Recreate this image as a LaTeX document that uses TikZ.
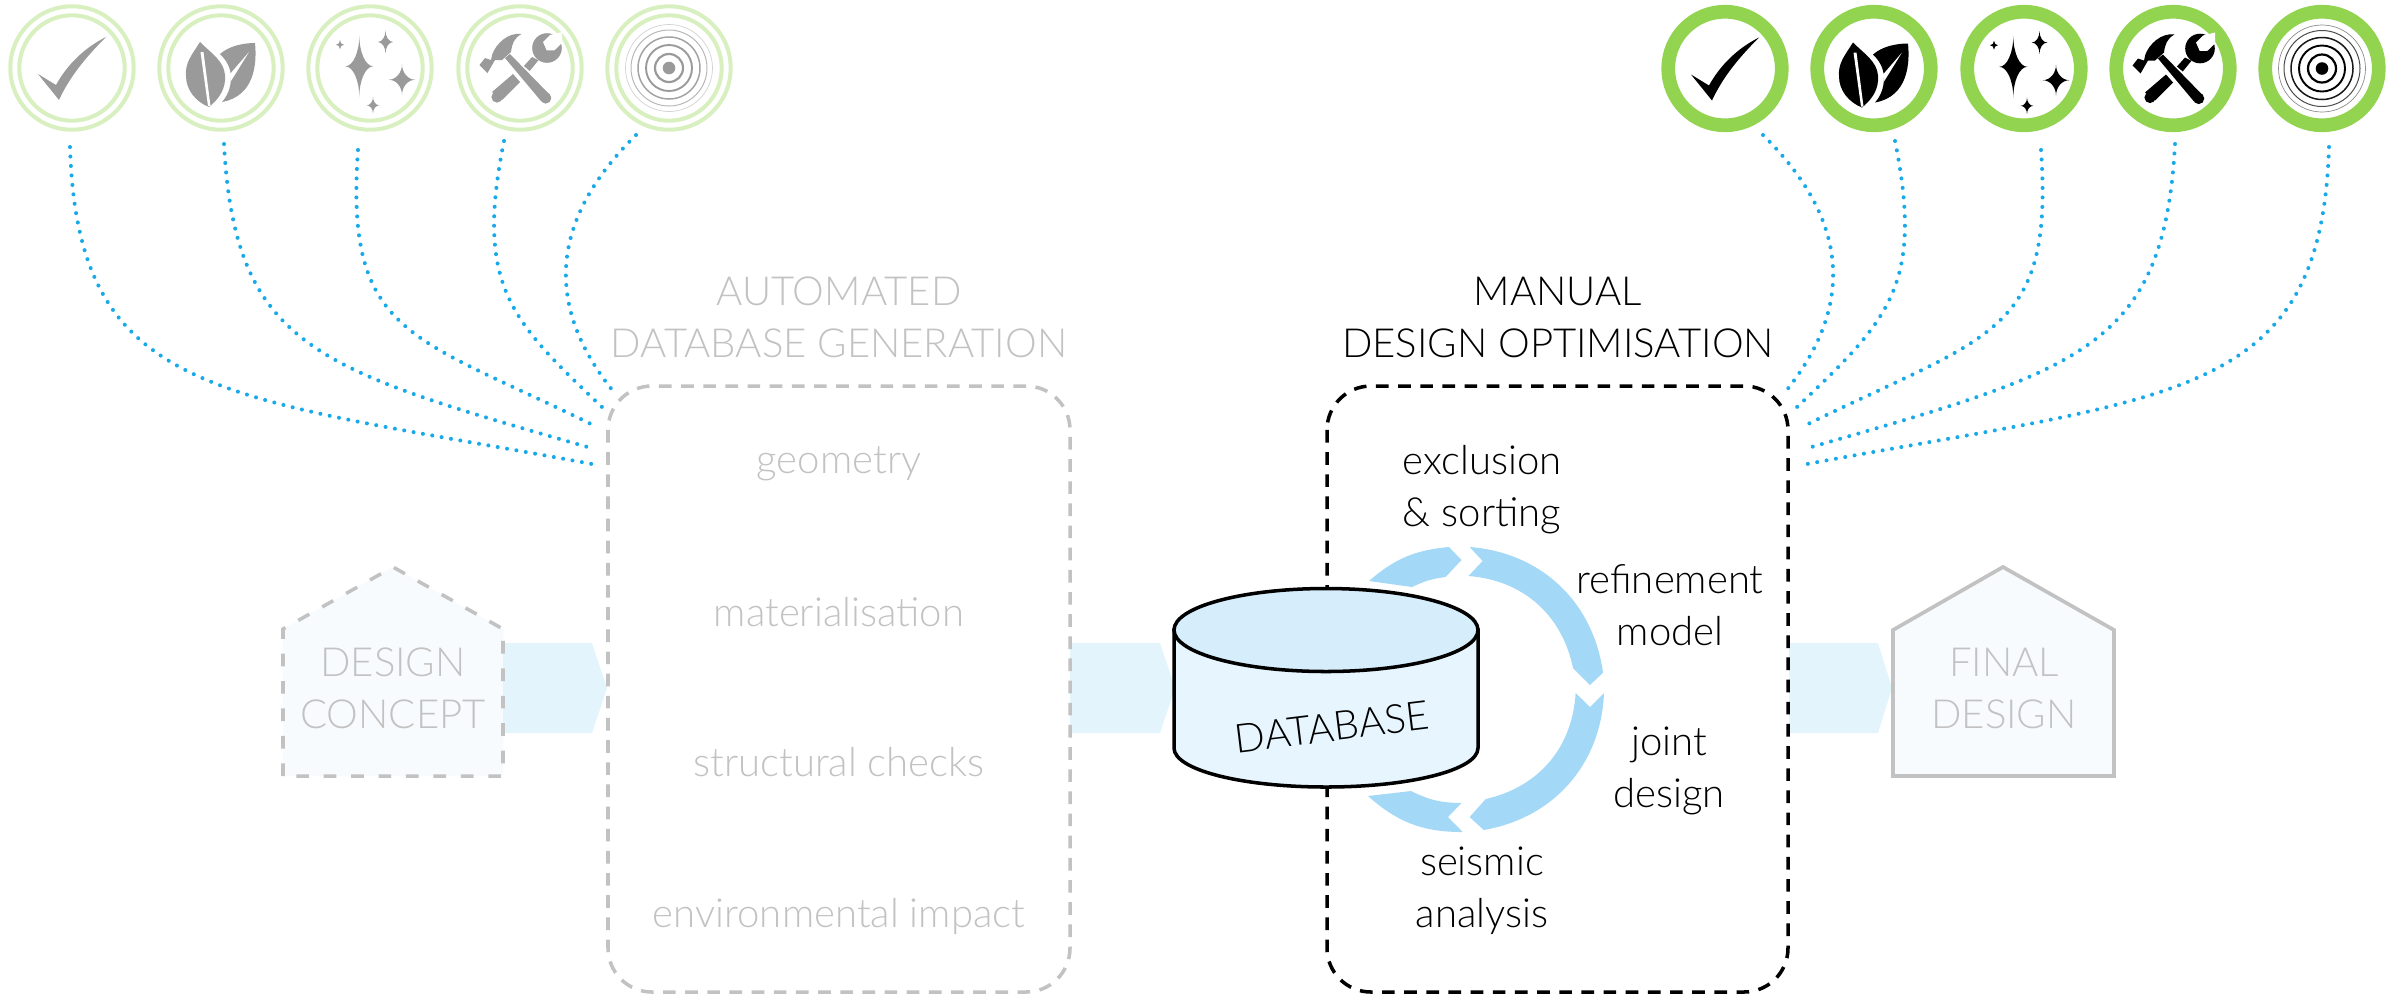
\documentclass[tikz,border=0pt]{standalone}
\usepackage{xcolor}
\usepackage{fontspec}
\setmainfont{Lato}[UprightFont=* Light]
\usepackage{tikz}
\usetikzlibrary{calc}
\definecolor{palegreen}{HTML}{D8EFC0}
\definecolor{leafgreen}{HTML}{92D350}
\definecolor{dotblue}{HTML}{18A9E8}
\definecolor{cyclblue}{HTML}{A3D9F7}
\definecolor{flowblue}{HTML}{E3F4FC}
\definecolor{housefill}{HTML}{F7FBFE}
\definecolor{fadegray}{HTML}{C2C2C2}
\definecolor{icongray}{HTML}{9A9A9A}
\definecolor{dbtop}{HTML}{D6EDFB}
\definecolor{dbside}{HTML}{E6F5FE}

\tikzset{
	lbl/.style={inner sep=0, align=center, font=\fontsize{11.4}{14.8}\selectfont},
	fadelbl/.style={lbl, text=fadegray},
	boxline/.style={line width=1pt, dash pattern=on 3.6pt off 2.7pt, rounded corners=12.5pt},
	dotline/.style={dotblue, line width=1.15pt, line cap=round, dash pattern=on 0pt off 2.7pt},
	flowarrow/.style={fill=flowblue, draw=none},
	cyclearrow/.style={fill=cyclblue, draw=none},
	checkicon/.pic={
		\fill (-34,6) -- (-16,17) .. controls (-5,-3) and (12,-20) .. (34,-31) .. controls (15,-12) and (-2,8) .. (-13,32) -- cycle;
	},
	leaficon/.pic={
		\fill (-21,-26) .. controls (-30,-12) and (-36,-5) .. (-35,8) .. controls (-35,22) and (-25,34) .. (-12,39) .. controls (-1,30) and (5,20) .. (4,7) .. controls (3,-7) and (-10,-15) .. (-21,-26) -- cycle;
		\fill (-1,-14) .. controls (8,-22) and (22,-25) .. (34,-25) .. controls (36,-5) and (34,28) .. (1,34) .. controls (9,25) and (10,15) .. (10,8) .. controls (9,-2) and (5,-8) .. (-1,-14) -- cycle;
		\fill[white] (-20.5,-16) -- (-17.5,-16) -- (-10.5,38) -- (-13,38) -- cycle;
		\fill[white] (28,-16) -- (9,6) -- (10,13) -- cycle;
	},
	sparkicon/.pic={
		\foreach \cx/\cy/\rx/\ry in {-10.7/-1.7/14/31, 15.5/-26/7.8/11.3, 32/11.7/13.3/15.5, 3/37.3/6.3/8.3, -30/-23.3/3.9/4.5}
			\fill (\cx,\cy-\ry) .. controls (\cx,\cy-.45*\ry) and (\cx+.45*\rx,\cy) .. (\cx+\rx,\cy) .. controls (\cx+.45*\rx,\cy) and (\cx,\cy+.45*\ry) .. (\cx,\cy+\ry) .. controls (\cx,\cy+.45*\ry) and (\cx-.45*\rx,\cy) .. (\cx-\rx,\cy) .. controls (\cx-.45*\rx,\cy) and (\cx,\cy-.45*\ry) .. (\cx,\cy-\ry) -- cycle;
	},
	toolicon/.pic={
		% hammer
		\fill (-40.5,-3) -- (-35,-10) -- (-29,-8) -- (-27.6,-14) .. controls (-24,-24) and (-12,-36) .. (1.5,-34) .. controls (-6,-30) and (-8,-24) .. (-9,-16) -- (-18,-8) -- (-25,-8) -- (-32.5,5) -- cycle;
		\fill (-15,-10) -- (-10,-14) -- (30,27) -- (21,33) -- cycle;
		\fill (25.7,30) circle (5.6);
		% wrench
		\fill (-7,6) -- (0,14) -- (-18,32) -- (-28,24) -- cycle;
		\fill (-23,29) circle (5.6);
		\fill (12,-11) -- (18.4,-7.7) -- (9.7,3) -- (3.9,-2) -- cycle;
		\fill (27,-20) circle (14.8);
		\fill[white] (30,-33) -- (23,-26) -- (26.7,-17.7) -- (34.4,-17.7) -- (42,-25) -- (42,-36) -- cycle;
	},
	ringicon/.pic={
		\fill (0,0) circle (6.3);
		\foreach \r/\w/\o in {14/2.2/1, 23/1.9/1, 31/1.5/.9, 38/1/.7, 43.5/.7/.45}
			\draw[line width=\w*.2845pt, opacity=\o] (0,0) circle (\r);
	}
}

\begin{document}
\begin{tikzpicture}[x=0.01cm, y=-0.01cm]
\useasboundingbox (0,0) rectangle (2405,996);

% icons
\foreach \x/\iconname in {72/checkicon,221/leaficon,370/sparkicon,520/toolicon,669/ringicon}
{
	\draw [palegreen, line width=1.15pt] (\x,68) circle (61.7);
	\draw [palegreen, line width=1.15pt] (\x,68) circle (52.7);
	\pic [color=icongray] at (\x,68) {\iconname};
}
\foreach \x/\iconname in {1725/checkicon,1874/leaficon,2024/sparkicon,2173/toolicon,2322/ringicon}
{
	\draw [leafgreen, line width=3.9pt] (\x,68.5) circle (56.8);
	\pic [color=black] at (\x,68.5) {\iconname};
}

% dotted links, right side is mirrored
\foreach \sx/\sy/\ax/\ay/\bx/\by/\ex/\ey [count=\i] in {70/147/78/400/220/395/592/464, 224/144/235/350/320/370/591/448, 358/150/345/335/410/335/591/424, 504/141/475/285/510/320/602/407, 636/135/555/215/540/300/613/391}
{
	\coordinate (lfrom\i) at (\sx,\sy);
	\coordinate (lto\i) at (\ex,\ey);
	\coordinate (rfrom\i) at (2399-\sx,\sy);
	\coordinate (rto\i) at (2399-\ex,\ey);
	\draw [dotline] (lfrom\i) .. controls (\ax,\ay) and (\bx,\by) .. (lto\i);
	\draw [dotline] (rfrom\i) .. controls (2399-\ax,\ay) and (2399-\bx,\by) .. (rto\i);
}

% flow arrows
\draw [flowarrow] (503,643) -- (592,643) -- (607,688) -- (592,733) -- (503,733) -- cycle;
\draw [flowarrow] (1070,643) -- (1160,643) -- (1175,688) -- (1160,733) -- (1070,733) -- cycle;
\draw [flowarrow] (1789,643) -- (1878,643) -- (1892,688) -- (1878,733) -- (1789,733) -- cycle;

% houses
\draw [fill=housefill, draw=fadegray, line width=1pt, dash pattern=on 3.6pt off 4.2pt] (283,776) -- (283,629) -- (393,567) -- (503,629) -- (503,776) -- cycle;
\draw [fill=housefill, draw=fadegray, line width=1.05pt] (1893,776) -- (1893,630) -- (2003,567) -- (2114,630) -- (2114,776) -- cycle;
\node [fadelbl] (concept) at (393,688) {DESIGN\\CONCEPT};
\node [fadelbl] (final) at (2004,688) {FINAL\\DESIGN};

% process boxes
\draw [boxline, draw=fadegray] (608,386) rectangle (1070,992);
\draw [boxline, draw=black] (1327,386) rectangle (1788,992);

\node [fadelbl] (autotitle) at (839,317) {AUTOMATED\\DATABASE GENERATION};
\node [lbl] (mantitle) at (1558,317) {MANUAL\\DESIGN OPTIMISATION};

\node [fadelbl] (geometry) at (839,464) {geometry};
\node [fadelbl] (material) at (839,612) {materialisation};
\node [fadelbl] (checks) at (839,762) {structural checks};
\node [fadelbl] (impact) at (839,916) {environmental impact};

\node [lbl] (sorting) at (1482,490) {exclusion\\\& sorting};
\node [lbl] (refine) at (1670,605) {refinement\\model};
\node [lbl] (joint) at (1669,771) {joint\\design};
\node [lbl] (seismic) at (1482,891) {seismic\\analysis};

% cycle arrows
\draw [cyclearrow] (1369,581) to[bend left=18] (1449,547) -- (1461.5,560) -- (1445.5,577) to[bend right=9] (1412,587) -- cycle;
\draw [cyclearrow] (1469.6,547) to[bend left=39] (1603,672.7) -- (1590,685) -- (1573,668) to[bend right=37] (1468.4,576) -- (1482.6,561) -- cycle;
\draw [cyclearrow] (1604,693) to[bend left=39] (1483.7,830) -- (1469.6,817) -- (1485.7,799) to[bend right=37] (1575.6,693) -- (1590,707) -- cycle;
\draw [cyclearrow] (1462.7,832) to[bend left=21] (1368,796) -- (1411,791) to[bend right=13] (1461.5,803) -- (1448,817) -- cycle;

% database
\draw [fill=dbside, line width=1pt] (1174,630) -- (1174,748) .. controls (1174,770) and (1242,787) .. (1326,787) .. controls (1410,787) and (1478,770) .. (1478,748) -- (1478,630) -- cycle;
\draw [fill=dbtop, line width=1pt] (1326,630) ellipse (152 and 41.5);
\node [lbl, rotate=7] (database) at (1332,727) {DATABASE};

\end{tikzpicture}
\end{document}
